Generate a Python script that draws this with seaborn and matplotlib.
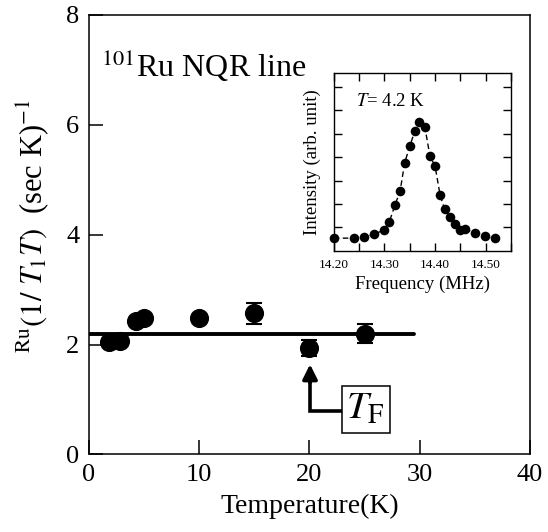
import numpy as np
import pandas as pd
import seaborn as sns
import matplotlib
matplotlib.use("Agg")
import matplotlib.pyplot as plt

# main panel: 101Ru (1/T1T) vs temperature
temp = [1.8, 2.8, 4.3, 5.0, 10.0, 15.0, 20.0, 25.0]
rate = [2.04, 2.06, 2.42, 2.49, 2.49, 2.57, 1.94, 2.20]
rate_err = [0.05, 0.06, 0.04, 0.04, 0.05, 0.19, 0.14, 0.17]
avg_level = 2.19
avg_end = 29.5

# inset: NQR spectrum at 4.2 K
freq = [14.200, 14.240, 14.260, 14.280, 14.300, 14.310, 14.321, 14.331,
        14.340, 14.350, 14.360, 14.369, 14.380, 14.390, 14.400, 14.410,
        14.419, 14.430, 14.439, 14.449, 14.459, 14.478, 14.498, 14.519]
intensity = [0.54, 0.54, 0.58, 0.70, 0.90, 1.25, 1.96, 2.54,
             3.75, 4.46, 5.10, 5.48, 5.27, 4.04, 3.62, 2.38,
             1.77, 1.45, 1.16, 0.90, 0.94, 0.75, 0.61, 0.54]

main_df = pd.DataFrame({"T": temp, "rate": rate, "err": rate_err})
spec_df = pd.DataFrame({"freq": freq, "intensity": intensity})

sns.set_theme(style="ticks", rc={"axes.edgecolor": "black", "xtick.color": "black",
                                 "ytick.color": "black", "text.color": "black",
                                 "axes.labelcolor": "black"})
plt.rcParams["font.family"] = ["Liberation Serif", "DejaVu Serif"]
plt.rcParams["mathtext.fontset"] = "stix"

fig = plt.figure(figsize=(5.48, 5.32), dpi=100)
ax = fig.add_axes([0.1624, 0.1457, 0.8047, 0.8267])

ax.plot([0, avg_end], [avg_level, avg_level], color="black", lw=2.8, zorder=2)
ax.errorbar(main_df["T"], main_df["rate"], yerr=main_df["err"], fmt="none",
            ecolor="black", elinewidth=1.5, capsize=6, capthick=1.5, zorder=3)
sns.scatterplot(data=main_df, x="T", y="rate", ax=ax, color="black", s=190,
                edgecolor="black", linewidth=0, zorder=4, legend=False)

ax.set_xlim(0, 40)
ax.set_ylim(0, 8)
ax.set_xticks([0, 10, 20, 30, 40])
ax.set_yticks([0, 2, 4, 6, 8])
ax.tick_params(direction="in", length=10, width=1.1, labelsize=19, pad=7,
               top=False, right=False)
for sp in ax.spines.values():
    sp.set_visible(True)
    sp.set_linewidth(1.1)

ax.set_xlabel("Temperature(K)", fontsize=20, va="center")
ax.xaxis.set_label_coords(0.5, -0.119)
ax.set_ylabel(r"$^{\mathrm{Ru}}(1/\ T_{\mathit{1}}T)$  (sec K)$^{-1}$",
              fontsize=22, va="center")
ax.yaxis.set_label_coords(-0.127, 0.52)

ax.text(1.09, 6.86, r"$^{101}$Ru NQR line", fontsize=23, va="baseline")

# T_F marker
ax.plot([23.1, 20.05, 20.05], [0.79, 0.79, 1.4], color="black", lw=2.6,
        solid_joinstyle="miter", zorder=3)
ax.annotate("", xy=(20.05, 1.64), xytext=(20.05, 1.3),
            arrowprops=dict(arrowstyle="-|>", mutation_scale=22, lw=2.6,
                            color="black", shrinkA=0, shrinkB=0))
ax.text(25.1, 0.82, r"$T_{\mathrm{F}}$", fontsize=28, ha="center", va="center",
        bbox=dict(boxstyle="square,pad=0.12", fc="white", ec="black", lw=1.1))

# inset spectrum
ins = fig.add_axes([0.609, 0.5286, 0.3235, 0.3333])
sns.lineplot(data=spec_df, x="freq", y="intensity", ax=ins, color="black",
             lw=1.0, linestyle=(0, (4, 2.5)), sort=False)
sns.scatterplot(data=spec_df, x="freq", y="intensity", ax=ins, color="black",
                s=48, linewidth=0, zorder=4, legend=False, clip_on=False)
ins.set_xlim(14.20, 14.55)
ins.set_ylim(0, 7.57)
ins.set_xticks([14.20, 14.30, 14.40, 14.50])
ins.set_xticklabels(["14.20", "14.30", "14.40", "14.50"])
ins.set_xticks(np.arange(14.25, 14.55, 0.1), minor=True)
ins.set_yticks(range(1, 8))
ins.set_yticklabels([])
ins.tick_params(which="both", direction="in", length=6, width=1.0,
                top=True, right=True, labelsize=9.5, pad=6)
for sp in ins.spines.values():
    sp.set_visible(True)
    sp.set_linewidth(1.0)
ins.set_xlabel("Frequency (MHz)", fontsize=13.5, va="center")
ins.xaxis.set_label_coords(0.5, -0.191)
ins.set_ylabel("Intensity (arb. unit)", fontsize=13.5, va="center")
ins.yaxis.set_label_coords(-0.118, 0.5)
ins.text(0.126, 0.842, r"$T$= 4.2 K", transform=ins.transAxes, fontsize=13.5,
         va="center")

fig.savefig("out.png", dpi=100)
